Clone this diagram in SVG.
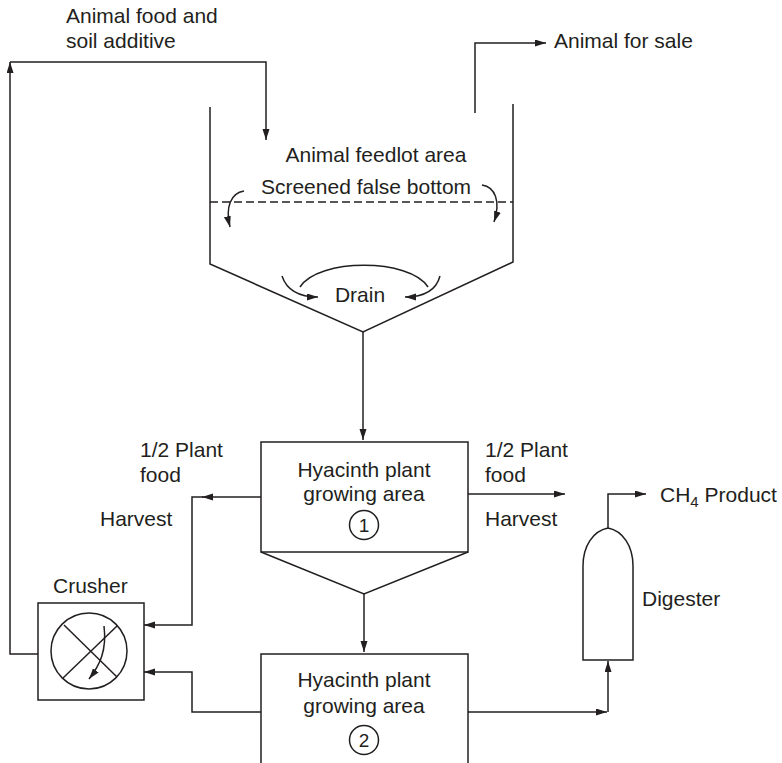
<svg xmlns="http://www.w3.org/2000/svg" width="782" height="763" viewBox="0 0 782 763">
  <style>
    .ln { fill: none; stroke: #231f20; stroke-width: 1.5; }
    .arr { fill: none; stroke: #231f20; stroke-width: 1.5; marker-end: url(#ah); }
    .box { fill: #ffffff; stroke: #231f20; stroke-width: 1.5; }
    .t { font-family: "Liberation Sans", Arial, Helvetica, sans-serif; font-size: 21px; fill: #231f20; }
    .c { text-anchor: middle; }
  </style>
  <defs>
    <marker id="ah" markerUnits="userSpaceOnUse" markerWidth="12" markerHeight="8" refX="11" refY="3.5" orient="auto">
      <path d="M0,0 L11,3.5 L0,7 Z" fill="#231f20"/>
    </marker>
  </defs>
  <rect width="782" height="763" fill="#ffffff"/>

  <!-- Animal feedlot with screened false bottom and drain hopper -->
  <g id="feedlot">
    <path class="ln" d="M210,107 V264 L363,332 L513,262 V104"/>
    <line class="ln" x1="210" y1="202" x2="513" y2="202" stroke-dasharray="8 4"/>
    <text class="t c" x="376" y="162">Animal feedlot area</text>
    <text class="t c" x="366" y="194">Screened false bottom</text>
    <path class="arr" d="M244,191 C231,193 225,207 230,227"/>
    <path class="arr" d="M482,185 C495,187 501,201 494,222"/>
    <path class="ln" d="M300,287 C318,258 410,258 428,287"/>
    <path class="arr" d="M282,276 C287,291 300,297 318,297"/>
    <path class="arr" d="M440,276 C436,291 423,297 405,297"/>
    <text class="t c" x="360" y="302">Drain</text>
  </g>

  <!-- Hyacinth plant growing area 1 with hopper below -->
  <g id="pond1">
    <rect class="box" x="261" y="442" width="207" height="110"/>
    <path class="ln" d="M261,552 L364,594 L468,552"/>
    <text class="t c" x="364" y="477">Hyacinth plant</text>
    <text class="t c" x="364" y="501">growing area</text>
    <circle class="ln" cx="364" cy="525" r="14.5"/>
    <text class="t c" x="364" y="532" style="font-size:19px">1</text>
  </g>

  <!-- Hyacinth plant growing area 2 -->
  <g id="pond2">
    <rect class="box" x="261" y="654" width="207" height="120"/>
    <text class="t c" x="364" y="687">Hyacinth plant</text>
    <text class="t c" x="364" y="713">growing area</text>
    <circle class="ln" cx="364" cy="740" r="14.5"/>
    <text class="t c" x="364" y="747" style="font-size:19px">2</text>
  </g>

  <!-- Crusher -->
  <g id="crusher">
    <rect class="box" x="38" y="603" width="106" height="97"/>
    <circle class="ln" cx="89" cy="651" r="38"/>
    <line class="ln" x1="64" y1="625" x2="117" y2="677"/>
    <line class="ln" x1="117" y1="626" x2="63" y2="678"/>
    <path class="arr" d="M104,626 C107,650 100,665 89,679"/>
    <text class="t" x="53" y="593">Crusher</text>
  </g>

  <!-- Digester: vessel with a pointed dome -->
  <g id="digester">
    <path class="box" d="M583,660 V566 C583,546 593,531 608,528 C623,531 633,546 633,566 V660 Z"/>
    <text class="t" x="642" y="606">Digester</text>
  </g>

  <!-- Process stream connectors -->
  <g id="connectors">
    <path class="arr" d="M38,654 H10 V62"/>
    <path class="arr" d="M10,62 H266 V140"/>
    <path class="arr" d="M475,113 V43 H546"/>
    <path class="arr" d="M363,332 V440"/>
    <path class="arr" d="M364,594 V652"/>
    <path class="arr" d="M261,497 H202"/>
    <path class="arr" d="M203,497 H192 V625 H144"/>
    <path class="arr" d="M468,494 H565"/>
    <path class="arr" d="M261,712 H192 V672 H144"/>
    <path class="arr" d="M468,712 H607"/>
    <path class="arr" d="M608,712 V661"/>
    <path class="arr" d="M608,528 V494 H646"/>
  </g>

  <!-- Stream labels -->
  <g id="labels">
    <text class="t" x="66" y="23">Animal food and</text>
    <text class="t" x="66" y="48">soil additive</text>
    <text class="t" x="554" y="48">Animal for sale</text>
    <text class="t" x="140" y="457">1/2 Plant</text>
    <text class="t" x="140" y="482">food</text>
    <text class="t" x="100" y="526">Harvest</text>
    <text class="t" x="485" y="457">1/2 Plant</text>
    <text class="t" x="485" y="482">food</text>
    <text class="t" x="485" y="526">Harvest</text>
    <text class="t" x="660" y="502">CH<tspan dy="5" style="font-size:15px">4</tspan><tspan dy="-5"> Product</tspan></text>
  </g>
</svg>
